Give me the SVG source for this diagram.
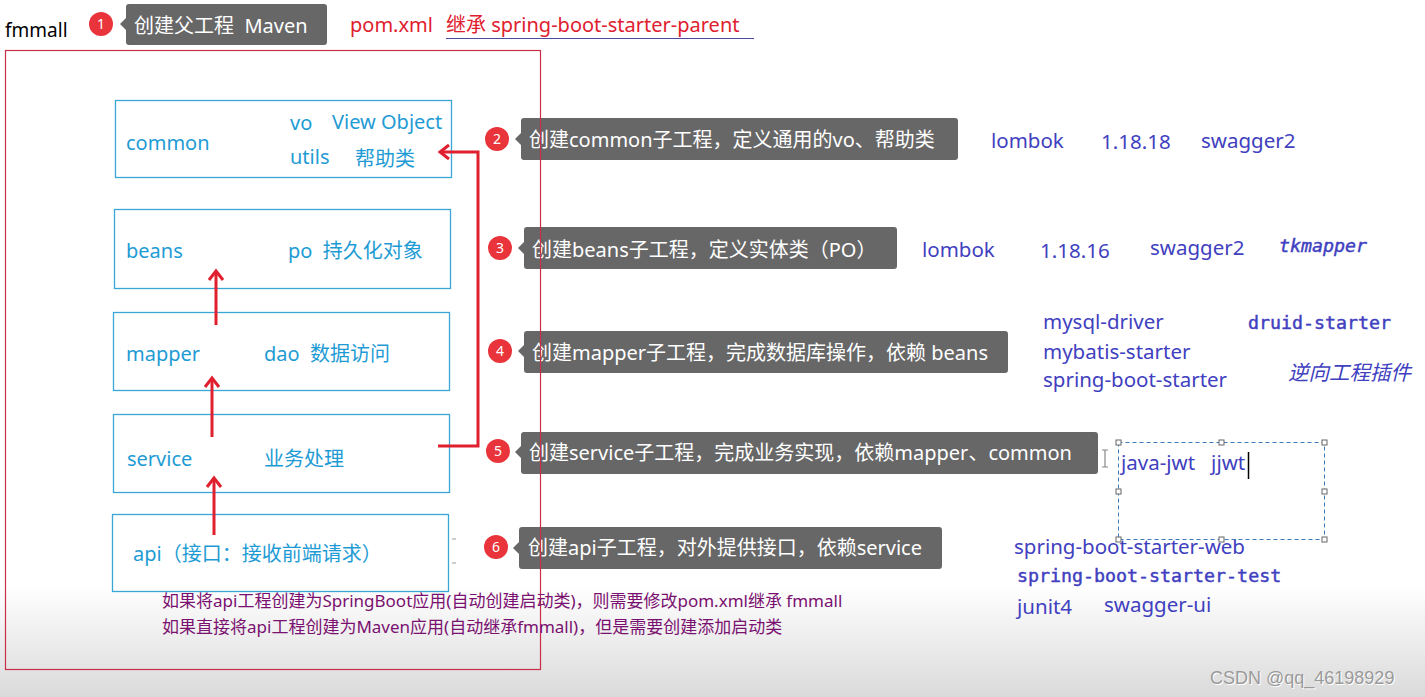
<svg xmlns="http://www.w3.org/2000/svg" width="1425" height="697" viewBox="0 0 1425 697">
<defs>
<linearGradient id="bg" x1="0" y1="0" x2="0" y2="1">
<stop offset="0" stop-color="#ffffff"/>
<stop offset="0.84" stop-color="#ffffff"/>
<stop offset="1" stop-color="#dadada"/>
</linearGradient>
<marker id="arr" markerUnits="userSpaceOnUse" markerWidth="20" markerHeight="20" refX="12" refY="9" orient="auto">
<path d="M3,2 L12,9 L3,16" fill="none" stroke="#e0202e" stroke-width="3"/>
</marker>
<style>
text{font-family:"Noto Sans","Noto Sans CJK SC",sans-serif;white-space:pre;}
.node rect{fill:none;stroke:#3aa6d8;stroke-width:1.3;}
.node text{fill:#1e9bd4;font-size:20px;}
.co{fill:#676767;}
.cot{fill:#ffffff;font-size:20px;}
.bd{fill:#e8343a;}
.bdt{fill:#ffffff;font-size:14px;text-anchor:middle;}
.dep{fill:#4040c0;font-size:20.5px;}
.mono{font-family:"DejaVu Sans Mono","Liberation Mono",monospace;font-size:18.3px;stroke:#4040c0;stroke-width:0.45;}
.note{fill:#7a1070;font-size:17px;}
.conn{fill:none;stroke:#e0202e;stroke-width:3;}
</style>
</defs>
<rect x="0" y="0" width="1425" height="697" fill="url(#bg)"/>

<text x="5" y="37" font-size="19" fill="#000">fmmall</text>

<!-- header callout 1 -->
<g id="callout1">
<circle class="bd" cx="101" cy="24" r="12"/><text class="bdt" x="101" y="29">1</text>
<rect class="co" x="126" y="4" width="201" height="41" rx="3"/>
<path class="co" d="M126,18 L120,24 L126,30 Z"/>
<text class="cot" x="134" y="33" xml:space="preserve">创建父工程  Maven</text>
</g>
<text x="350" y="32" font-size="20" fill="#e0202e">pom.xml</text>
<text x="446" y="32" font-size="20" fill="#e0202e">继承 spring-boot-starter-parent</text>
<line x1="446" y1="38.5" x2="754" y2="38.5" stroke="#4a4aa0" stroke-width="1.2"/>

<!-- nodes -->
<g id="common" class="node">
<rect x="115.5" y="100.5" width="336" height="77"/>
<text x="126" y="150">common</text>
<text x="290" y="130">vo</text>
<text x="332" y="129">View Object</text>
<text x="290" y="164">utils</text>
<text x="355" y="166">帮助类</text>
</g>
<g id="beans" class="node">
<rect x="114.5" y="209.5" width="336" height="79"/>
<text x="126" y="258">beans</text>
<text x="288" y="258" xml:space="preserve">po  持久化对象</text>
</g>
<g id="mapper" class="node">
<rect x="113.5" y="312.5" width="336" height="78"/>
<text x="126" y="361">mapper</text>
<text x="264" y="361" xml:space="preserve">dao  数据访问</text>
</g>
<g id="service" class="node">
<rect x="113.5" y="414.5" width="336" height="78"/>
<text x="127" y="466">service</text>
<text x="264" y="466">业务处理</text>
</g>
<g id="api" class="node">
<rect x="112.5" y="514.5" width="336" height="77"/>
<text x="133" y="561">api（接口：接收前端请求）</text>
</g>
<line x1="452" y1="539" x2="456" y2="539" stroke="#999" stroke-width="1"/>
<line x1="452" y1="563" x2="456" y2="563" stroke="#999" stroke-width="1"/>

<!-- connectors -->
<g id="connectors">
<path class="conn" d="M216,325 L216,271" marker-end="url(#arr)"/>
<path class="conn" d="M212,437 L212,378" marker-end="url(#arr)"/>
<path class="conn" d="M214,535 L214,478" marker-end="url(#arr)"/>
<path class="conn" d="M438,446 L478,446 L478,152 L440,152" marker-end="url(#arr)"/>
</g>

<!-- callouts -->
<g id="callout2">
<circle class="bd" cx="497" cy="139" r="12"/><text class="bdt" x="497" y="144">2</text>
<rect class="co" x="521" y="118" width="437" height="42" rx="3"/>
<path class="co" d="M521,133 L515,139 L521,145 Z"/>
<text class="cot" x="529" y="147">创建common子工程，定义通用的vo、帮助类</text>
</g>
<g id="callout3">
<circle class="bd" cx="500" cy="248" r="12"/><text class="bdt" x="500" y="253">3</text>
<rect class="co" x="524" y="227" width="373" height="42" rx="3"/>
<path class="co" d="M524,242 L518,248 L524,254 Z"/>
<text class="cot" x="532" y="257">创建beans子工程，定义实体类（PO）</text>
</g>
<g id="callout4">
<circle class="bd" cx="500" cy="351" r="12"/><text class="bdt" x="500" y="356">4</text>
<rect class="co" x="524" y="331" width="484" height="42" rx="3"/>
<path class="co" d="M524,345 L518,351 L524,357 Z"/>
<text class="cot" x="532" y="360">创建mapper子工程，完成数据库操作，依赖 beans</text>
</g>
<g id="callout5">
<circle class="bd" cx="498" cy="451" r="12"/><text class="bdt" x="498" y="456">5</text>
<rect class="co" x="521" y="432" width="577" height="42" rx="3"/>
<path class="co" d="M521,446 L515,452 L521,458 Z"/>
<text class="cot" x="529" y="460">创建service子工程，完成业务实现，依赖mapper、common</text>
</g>
<g id="callout6">
<circle class="bd" cx="496" cy="547" r="12"/><text class="bdt" x="496" y="552">6</text>
<rect class="co" x="519" y="527" width="423" height="42" rx="3"/>
<path class="co" d="M519,542 L513,548 L519,554 Z"/>
<text class="cot" x="528" y="555">创建api子工程，对外提供接口，依赖service</text>
</g>

<!-- outer project box (drawn over callouts) -->
<rect id="fmmall" x="5.5" y="50.5" width="535" height="619" fill="none" stroke="#c8304a" stroke-width="1.2"/>

<!-- dependency notes -->
<g id="deps">
<text class="dep" x="991" y="148">lombok</text>
<text class="dep" x="1101" y="149">1.18.18</text>
<text class="dep" x="1201" y="148">swagger2</text>
<text class="dep" x="922" y="257">lombok</text>
<text class="dep" x="1040" y="258">1.18.16</text>
<text class="dep" x="1150" y="255">swagger2</text>
<text class="dep mono" x="1279" y="252" font-style="italic">tkmapper</text>
<text class="dep" x="1043" y="329">mysql-driver</text>
<text class="dep mono" x="1248" y="329">druid-starter</text>
<text class="dep" x="1043" y="359">mybatis-starter</text>
<text class="dep" x="1043" y="387">spring-boot-starter</text>
<text class="dep" x="1288" y="380" font-size="18" font-style="italic">逆向工程插件</text>
<text class="dep" x="1121" y="470" font-size="19" xml:space="preserve">java-jwt   jjwt</text>
<text class="dep" x="1014" y="554">spring-boot-starter-web</text>
<text class="dep mono" x="1017" y="582">spring-boot-starter-test</text>
<text class="dep" x="1017" y="614">junit4</text>
<text class="dep" x="1104" y="612">swagger-ui</text>
</g>

<!-- selection box -->
<g id="selection">
<rect x="1118.5" y="442.5" width="206" height="97" fill="none" stroke="#3a7ab8" stroke-width="1" stroke-dasharray="4,3"/>
<g fill="#fff" stroke="#666" stroke-width="1">
<rect x="1116" y="440" width="5" height="5"/><rect x="1219" y="440" width="5" height="5"/><rect x="1322" y="440" width="5" height="5"/>
<rect x="1116" y="489" width="5" height="5"/><rect x="1322" y="489" width="5" height="5"/>
<rect x="1116" y="537" width="5" height="5"/><rect x="1219" y="537" width="5" height="5"/><rect x="1322" y="537" width="5" height="5"/>
</g>
<line x1="1248.5" y1="452" x2="1248.5" y2="479" stroke="#000" stroke-width="1.5"/>
<path d="M1102,450 L1108,450 M1105,450 L1105,467 M1102,467 L1108,467" stroke="#888" stroke-width="1.2" fill="none"/>
</g>

<text class="note" x="162" y="607">如果将api工程创建为SpringBoot应用(自动创建启动类)，则需要修改pom.xml继承 fmmall</text>
<text class="note" x="162" y="633">如果直接将api工程创建为Maven应用(自动继承fmmall)，但是需要创建添加启动类</text>

<text x="1211" y="685" font-size="18" fill="#ffffff" style="font-family:'Liberation Sans',sans-serif">CSDN @qq_46198929</text>
<text x="1210" y="684" font-size="18" fill="#9a9a9a" style="font-family:'Liberation Sans',sans-serif">CSDN @qq_46198929</text>
</svg>
